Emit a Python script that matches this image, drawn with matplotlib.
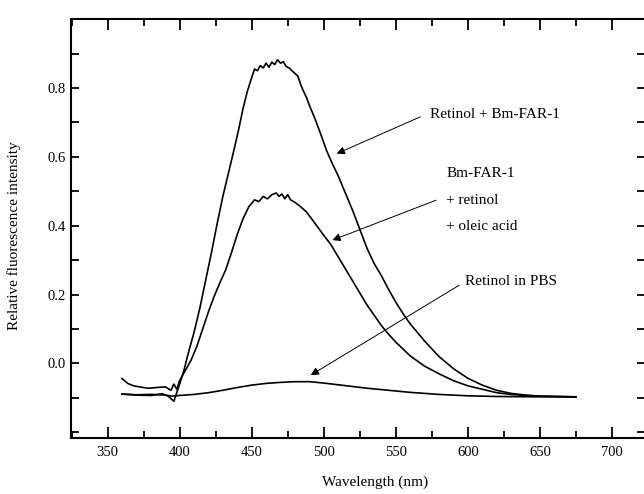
import matplotlib
matplotlib.use('Agg')
from matplotlib import pyplot as plt
from matplotlib.ticker import MultipleLocator

plt.rcParams['font.family'] = ['Liberation Serif', 'DejaVu Serif']

# Retinol + Bm-FAR-1 (tallest curve)
wl_far = [360, 370, 380, 388, 392, 396, 398, 400, 403, 406, 410, 414, 418, 422,
          426, 430, 434, 438, 441, 444, 447, 450, 452, 454, 456, 458, 460, 462,
          464, 466, 468, 470, 472, 474, 476, 478, 480, 482, 484, 486, 488, 490,
          494, 498, 502, 506, 510, 515, 520, 525, 530, 535, 540, 545, 550, 555,
          560, 570, 580, 590, 600, 610, 620, 630, 640, 650, 660, 675]
int_far = [-0.089, -0.092, -0.093, -0.088, -0.095, -0.110, -0.085, -0.060, -0.020,
           0.030, 0.090, 0.160, 0.240, 0.320, 0.405, 0.485, 0.555, 0.625, 0.680,
           0.740, 0.790, 0.830, 0.855, 0.850, 0.865, 0.858, 0.872, 0.860, 0.875,
           0.868, 0.882, 0.872, 0.876, 0.862, 0.858, 0.850, 0.842, 0.835, 0.810,
           0.790, 0.773, 0.750, 0.710, 0.665, 0.618, 0.580, 0.545, 0.495, 0.445,
           0.390, 0.335, 0.290, 0.255, 0.215, 0.178, 0.145, 0.115, 0.065, 0.020,
           -0.015, -0.043, -0.063, -0.078, -0.087, -0.092, -0.095, -0.096, -0.097]

# Bm-FAR-1 + retinol + oleic acid
wl_ole = [360, 364, 368, 372, 378, 384, 390, 394, 396, 398, 400, 404, 408, 412,
          416, 420, 424, 428, 432, 436, 440, 444, 448, 452, 455, 458, 461, 464,
          467, 469, 471, 473, 475, 477, 480, 484, 488, 492, 496, 500, 505, 510,
          515, 520, 525, 530, 535, 540, 545, 550, 555, 560, 570, 580, 590, 600,
          610, 620, 630, 640, 650, 675]
int_ole = [-0.044, -0.058, -0.065, -0.068, -0.072, -0.070, -0.068, -0.078, -0.060,
           -0.075, -0.050, -0.020, 0.010, 0.050, 0.100, 0.150, 0.195, 0.235, 0.272,
           0.322, 0.375, 0.420, 0.455, 0.475, 0.470, 0.485, 0.478, 0.490, 0.495,
           0.485, 0.492, 0.478, 0.490, 0.475, 0.468, 0.455, 0.440, 0.418, 0.395,
           0.372, 0.345, 0.310, 0.275, 0.240, 0.205, 0.170, 0.140, 0.110, 0.085,
           0.062, 0.042, 0.022, -0.008, -0.030, -0.050, -0.065, -0.075, -0.085,
           -0.090, -0.093, -0.095, -0.097]

# Retinol in PBS
wl_pbs = [360, 370, 380, 390, 395, 400, 410, 420, 430, 440, 450, 460, 470, 480,
          490, 500, 510, 520, 530, 540, 550, 560, 570, 580, 600, 620, 650, 675]
int_pbs = [-0.089, -0.091, -0.090, -0.092, -0.095, -0.093, -0.090, -0.085, -0.078,
           -0.070, -0.063, -0.058, -0.055, -0.053, -0.053, -0.057, -0.062, -0.067,
           -0.072, -0.076, -0.080, -0.084, -0.087, -0.090, -0.094, -0.096, -0.097,
           -0.097]

fig = plt.figure(figsize=(6.44, 4.94), dpi=100)
ax = fig.add_axes([0.110, 0.1134, 0.8916, 0.848])

ax.plot(wl_far, int_far, color='black', lw=1.2)
ax.plot(wl_ole, int_ole, color='black', lw=1.2)
ax.plot(wl_pbs, int_pbs, color='black', lw=1.2)

# labels with arrows
arrow = dict(arrowstyle='-|>', color='black', lw=0.7, mutation_scale=12,
             shrinkA=0, shrinkB=0)
ax.annotate('', xy=(509, 0.609), xytext=(567, 0.716), arrowprops=arrow)
ax.text(574, 0.722, 'Retinol + Bm-FAR-1', fontsize=11, va='center')
ax.annotate('', xy=(506, 0.358), xytext=(578, 0.474), arrowprops=arrow)
ax.text(585, 0.551, 'Bm-FAR-1', fontsize=11, va='center')
ax.text(585, 0.474, '+ retinol', fontsize=11, va='center')
ax.text(585, 0.398, '+ oleic acid', fontsize=11, va='center')
ax.annotate('', xy=(491, -0.034), xytext=(594, 0.227), arrowprops=arrow)
ax.text(598, 0.239, 'Retinol in PBS', fontsize=11, va='center')

ax.set_xlim(324.5, 723)
ax.set_ylim(-0.2165, 1.0)
ax.xaxis.set_major_locator(MultipleLocator(50))
ax.xaxis.set_minor_locator(MultipleLocator(25))
ax.yaxis.set_minor_locator(MultipleLocator(0.1))
ax.set_yticks([0.0, 0.2, 0.4, 0.6, 0.8])
ax.set_yticklabels(['0.0', '0.2', '0.4', '0.6', '0.8'])

ax.tick_params(which='both', direction='in', top=True, right=True,
               labelsize=10.5, width=1.3)
ax.tick_params(axis='x', which='major', length=8, pad=6)
ax.tick_params(axis='x', which='minor', length=5)
ax.tick_params(axis='y', which='both', length=6)
for s in ax.spines.values():
    s.set_linewidth(1.5)

ax.set_xlabel('Wavelength (nm)', fontsize=11)
ax.xaxis.set_label_coords(0.53, -0.09)
ax.set_ylabel('Relative fluorescence intensity', fontsize=11)
ax.yaxis.set_label_coords(-0.087, 0.482)

fig.savefig('out.png', dpi=100)
